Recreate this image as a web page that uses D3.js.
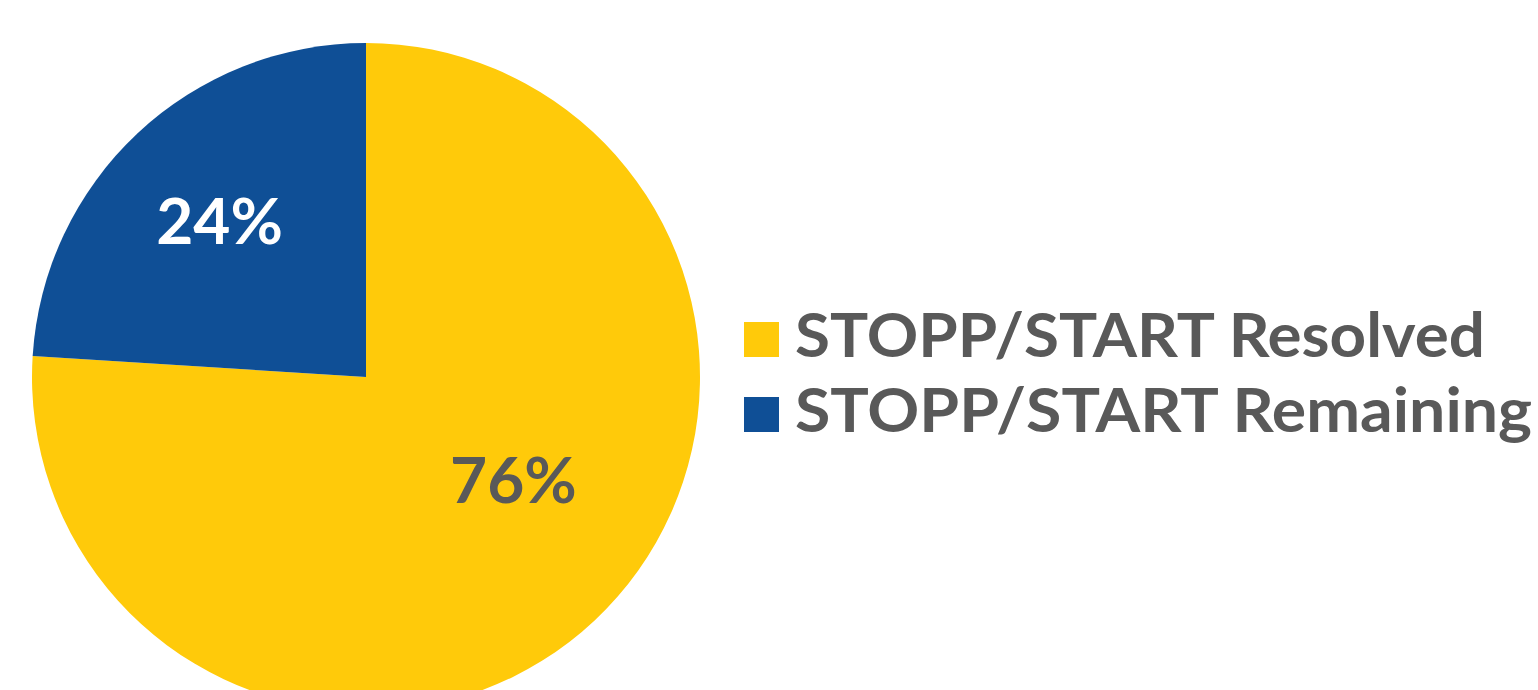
<!DOCTYPE html>
<html>
<head>
<meta charset="utf-8">
<script src="https://cdn.jsdelivr.net/npm/d3@7"></script>
<style>
  html, body { margin: 0; padding: 0; background: #ffffff; }
  svg { display: block; }
</style>
</head>
<body>
<svg id="chart" width="1538" height="690"></svg>
<script>
// Share of STOPP/START findings, in percent
const categories = ["STOPP/START Resolved", "STOPP/START Remaining"];
const values = [76, 24];
const valueLabels = ["76%", "24%"];
const colors = ["#FFCA0A", "#0F4F96"];
const labelColors = ["#595959", "#FFFFFF"];

const width = 1538, height = 690;
const cx = 366, cy = 377, radius = 334;
const FONT = "Lato, 'Open Sans', sans-serif";

const svg = d3.select("#chart");
const g = svg.append("g").attr("transform", `translate(${cx},${cy})`);

const data = categories.map((c, i) => ({ name: c, value: values[i], label: valueLabels[i], color: colors[i], labelColor: labelColors[i] }));

// Slices run clockwise from 12 o'clock in data order
const pie = d3.pie().value(d => d.value).sort(null);
const arc = d3.arc().innerRadius(0).outerRadius(radius);
const arcs = pie(data);

g.selectAll("path.slice")
  .data(arcs)
  .enter().append("path")
  .attr("class", "slice")
  .attr("d", arc)
  .attr("fill", d => d.data.color);

// Best-fit label placement: radius and angular nudge per slice
const labelFit = [
  { r: 180, shift: -0.205 },
  { r: 214, shift: 0 }
];
g.selectAll("text.value")
  .data(arcs)
  .enter().append("text")
  .attr("class", "value")
  .attr("transform", (d, i) => {
    const a = (d.startAngle + d.endAngle) / 2 + labelFit[i].shift;
    const r = labelFit[i].r;
    return `translate(${r * Math.sin(a)},${-r * Math.cos(a)})`;
  })
  .attr("text-anchor", "middle")
  .attr("dy", "0.36em")
  .attr("font-family", FONT)
  .attr("font-weight", 700)
  .attr("font-size", 64)
  .attr("fill", d => d.data.labelColor)
  .text(d => d.data.label);

// Legend
const legendX = 744, legendY = 322, rowGap = 75, box = 35;
const legendWidths = [690, 737];
const legend = svg.append("g").attr("transform", `translate(${legendX},${legendY})`);
const rows = legend.selectAll("g.row")
  .data(data)
  .enter().append("g")
  .attr("class", "row")
  .attr("transform", (d, i) => `translate(0,${i * rowGap})`);

rows.append("rect")
  .attr("width", box)
  .attr("height", box)
  .attr("fill", d => d.color);

rows.append("text")
  .attr("x", 51)
  .attr("y", 35)
  .attr("font-family", FONT)
  .attr("font-weight", 700)
  .attr("font-size", 62)
  .attr("fill", "#595959")
  .attr("textLength", (d, i) => legendWidths[i])
  .attr("lengthAdjust", "spacingAndGlyphs")
  .text(d => d.name);
</script>
</body>
</html>
